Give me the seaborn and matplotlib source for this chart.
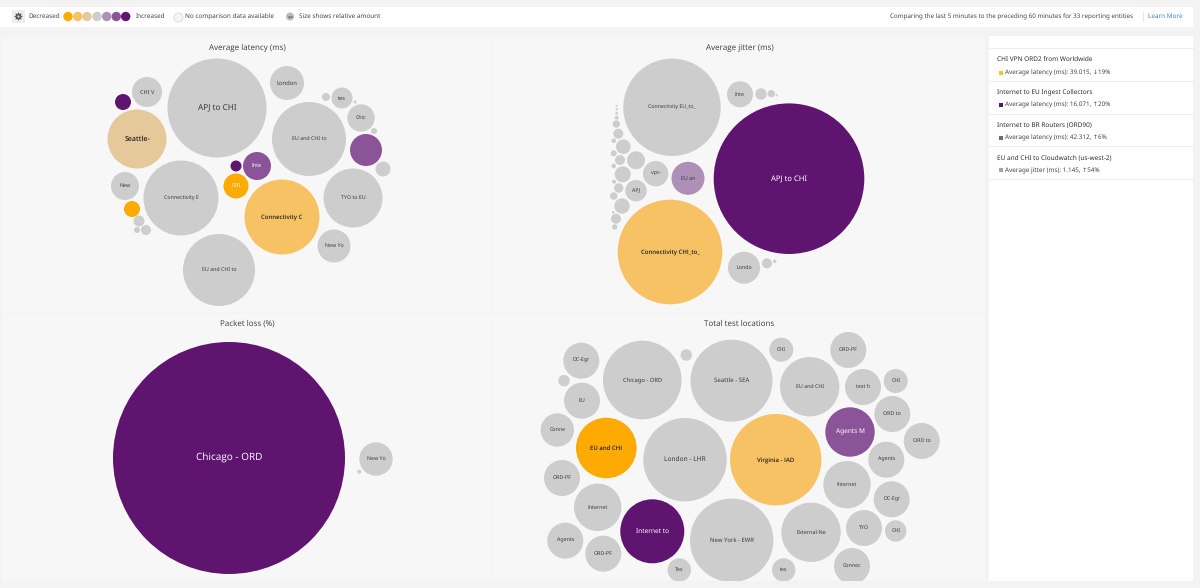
import pandas as pd
import matplotlib
matplotlib.use('Agg')
import matplotlib.pyplot as plt
import seaborn as sns
from matplotlib.patches import Rectangle

sns.set_style('white')
plt.rcParams['font.family'] = ['Noto Sans', 'DejaVu Sans']
plt.rcParams['text.hinting'] = 'no_hinting'
plt.rcParams['text.hinting_factor'] = 1
#Open Sans has the heavier weights, Noto Sans scales better at very small sizes
HEAVY = ['Open Sans', 'DejaVu Sans']

#bucket of change vs previous period
colors = {
    'dec3': '#fdab03', 'dec2': '#f6c264', 'dec1': '#e6c99b', 'none': '#cdcdcd',
    'inc1': '#ae8fb6', 'inc2': '#8b5499', 'inc3': '#5f1470',
}

#average latency
lat_labels = ['APJ to CHI', 'London', 'CHI V', '', 'Seattle-', '', 'tes', '', 'Chic', '', '', '',
              'EU and CHI to', '', 'Inte', 'CHI', 'Connectivity C', 'TYO to EU', 'Connectivity E',
              'New', '', '', '', '', 'EU and CHI to', 'New Yo']
lat_x = [217, 287, 147, 123, 137, 326, 342, 355, 361, 374, 366, 383, 309, 236, 257, 236, 282, 353, 181,
         125, 132, 139, 146, 137, 219, 334]
lat_y = [108, 83, 92, 102, 139, 97, 98, 102, 118, 131, 150, 169, 139, 166, 166, 186, 217, 198, 198,
         186, 209, 221, 230, 230, 270, 246]
lat_r = [49.5, 17, 15, 8, 29.5, 4, 10.5, 1.5, 13.7, 3, 16, 7.5, 37, 5.5, 14, 12.5, 37.5, 29.5, 37.5,
         14, 8, 5.5, 5, 3, 36, 16.5]
lat_bucket = ['none', 'none', 'none', 'inc3', 'dec1', 'none', 'none', 'none', 'none', 'none', 'inc2', 'none',
              'none', 'inc3', 'inc2', 'dec3', 'dec2', 'none', 'none',
              'none', 'dec3', 'none', 'none', 'none', 'none', 'none']

#average jitter
jit_labels = ['Connectivity EU_to_', 'Inte', '', '', '', 'APJ to CHI', 'vpc-', 'EU an', 'APJ',
              'Connectivity CHI_to_', 'Londo', '', ''] + [''] * 20
jit_x = [672, 740, 761, 771.3, 776.7, 789, 655.7, 688, 636, 670, 744, 767, 774.7,
         616.7, 616.7, 616.7, 616.7, 616.3, 618.3, 613.7, 623.3, 636, 613.7,
         620, 613.7, 622.7, 614, 618.7, 613.7, 622, 613.3, 616, 614.7]
jit_y = [107.3, 94.3, 94, 93.7, 95.3, 178.7, 173.7, 178.3, 190.7, 252, 267.7, 263.3, 261.3,
         106, 109.3, 113.3, 117.7, 124, 133.7, 140.7, 146.7, 160.3, 153.3,
         160, 166, 174.3, 181.7, 188, 196, 206, 212.3, 218.7, 227]
jit_r = [48.7, 13, 5.7, 3.7, 1, 75.3, 12.7, 16.5, 10.7, 52.3, 16, 5, 1.8,
         1, 1.2, 1.4, 2, 3.7, 5, 2.3, 7.3, 9, 3,
         5, 2.3, 8, 2, 4.7, 3.7, 7.7, 1.3, 5, 2.7]
jit_bucket = ['none', 'none', 'none', 'none', 'none', 'inc3', 'none', 'inc1', 'none',
              'dec2', 'none', 'none', 'none'] + ['none'] * 20

#packet loss
loss_labels = ['Chicago - ORD', 'New Yo', '']
loss_x = [229, 376, 359.3]
loss_y = [458, 459, 471.7]
loss_r = [116, 16.7, 2]
loss_bucket = ['inc3', 'none', 'none']

#total test locations
loc_labels = ['DC-Egr', 'Chicago - ORD', '', '', 'EU', 'Conne', 'EU and CHI', 'London - LHR', 'ORD-PF',
              'Internet', 'Internet to', 'Agents', 'ORD-PF', 'Tes', 'Seattle - SEA', 'CHI', 'ORD-PF',
              'EU and CHI', 'test h', 'CHI', 'ORD to', 'Agents M', 'ORD to', 'Virginia - IAD', 'Agents',
              'Internet', 'DC-Egr', 'New York - EWR', 'External-Ne', 'TYO', 'CHI', 'tes', 'Connec']
loc_x = [581.3, 642.3, 686.3, 564, 582, 557.3, 606.3, 685, 562,
         597.7, 652.3, 565.3, 603.3, 679.3, 731.5, 781.3, 848.3,
         809.7, 863, 895.7, 892.3, 850, 921.7, 775.7, 886.3,
         847, 891.7, 731.7, 811, 864, 895.7, 783.7, 852]
loc_y = [360.7, 380, 355, 380.7, 400.7, 430, 448, 459.7, 478,
         507.3, 531.3, 540.7, 553.7, 570, 380.7, 349.7, 350,
         386.7, 387, 381, 414, 432, 441, 459.7, 459.7,
         484.7, 499.3, 540.3, 532.3, 528, 531, 570, 566]
loc_r = [18, 39.3, 5.7, 5.7, 18, 16.7, 30.3, 41.7, 18,
         23.7, 32, 18, 18, 11.7, 41, 12, 18,
         29.7, 18, 12, 18, 24.7, 18, 45.7, 18,
         23.7, 18, 41.7, 29.7, 18, 10.7, 11.7, 18]
loc_bucket = ['none', 'none', 'none', 'none', 'none', 'none', 'dec3', 'none', 'none',
              'none', 'inc3', 'none', 'none', 'none', 'none', 'none', 'none',
              'none', 'none', 'none', 'none', 'inc2', 'none', 'dec2', 'none',
              'none', 'none', 'none', 'none', 'none', 'none', 'none', 'none']

#legend strip and side list
legend_x = [68, 77.7, 87, 97, 106.7, 116.3, 125.7]
legend_bucket = ['dec3', 'dec2', 'dec1', 'none', 'inc1', 'inc2', 'inc3']
side_titles = ['CHI VPN ORD2 from Worldwide', 'Internet to EU Ingest Collectors',
               'Internet to BR Routers (ORD90)', 'EU and CHI to Cloudwatch (us-west-2)']
side_texts = ['Average latency (ms): 39.015, \u219319%', 'Average latency (ms): 16.071, \u219120%',
              'Average latency (ms): 42.312, \u21916%', 'Average jitter (ms): 1.145, \u219154%']
side_colors = ['#f2c230', '#4b1a6e', '#80608a', '#ab9fb0']

#label sizes that differ from the default
lat_fonts = {'APJ to CHI': 5.9, 'London': 4.2, 'CHI V': 4, 'Seattle-': 5.0, 'Connectivity C': 4.4,
             'tes': 4, 'Inte': 3.9}
jit_fonts = {'Connectivity EU_to_': 3.75, 'APJ to CHI': 5.5, 'Connectivity CHI_to_': 4.5}
loss_fonts = {'Chicago - ORD': 7.4}
loc_fonts = {'Chicago - ORD': 4.2, 'London - LHR': 4.75, 'New York - EWR': 4.25, 'Virginia - IAD': 4.4,
             'Seattle - SEA': 4.4, 'Internet to': 4.7, 'Agents M': 4.7, 'External-Ne': 3.9}

W, H = 1200, 588
PX = 72 / 100  #points per pixel at dpi 100


def area(r):
    #marker area in points^2 for a radius in pixels
    return (2 * r * PX) ** 2


fig = plt.figure(figsize=(12, 5.88), dpi=100, facecolor='#f3f3f4')

#page chrome
bg = fig.add_axes([0, 0, 1, 1])
bg.set_xlim(0, W)
bg.set_ylim(H, 0)
bg.axis('off')
bg.add_patch(Rectangle((0, 7), 1193, 20, fc='white', ec='none'))
bg.add_patch(Rectangle((989, 36), 204, 545, fc='white', ec='none'))
for y in [48, 81, 113.5, 146, 179]:
    bg.plot([989, 1193], [y, y], color='#eeeeee', lw=0.8)

sns.scatterplot(x=legend_x, y=[16.5] * 7, hue=legend_bucket, palette=colors, s=area(4.7),
                linewidth=0, legend=False, ax=bg)
bg.scatter([177.5], [16.5], s=area(4.5), fc='#f5f5f5', ec='#dddddd', lw=0.7)
bg.scatter([290], [16.5], s=area(4), fc='#bdbdbd', ec='none')
bg.text(290, 16.5, '\u2194', fontsize=4.5, color='#444444', ha='center', va='center')
bg.add_patch(Rectangle((12, 10), 13, 13, fc='#eeeeee', ec='none'))
bg.scatter([18.5], [16.5], s=area(3.6), fc='none', ec='#555555', lw=0.7, marker=(8, 1, 0))
bg.scatter([18.5], [16.5], s=area(1.5), fc='none', ec='#555555', lw=0.6)

TOP = dict(fontsize=4.6, color='#444444', va='center')
bg.text(28, 16.5, 'Decreased', **TOP)
bg.text(135.5, 16.5, 'Increased', **TOP)
bg.text(185, 16.5, 'No comparison data available', **TOP)
bg.text(299, 16.5, 'Size shows relative amount', **TOP)
bg.text(890, 16.5, 'Comparing the last 5 minutes to the preceding 60 minutes for 33 reporting entities',
        fontsize=4.5, color='#444444', va='center')
bg.text(1148, 16.5, 'Learn More', fontsize=4.6, color='#3f87c0', va='center')
bg.plot([1143, 1143], [12, 21], color='#e8e8e8', lw=0.7)

for i in range(4):
    y0 = 60 + i * 32.6
    bg.text(997, y0, side_titles[i], fontsize=4.66, color='#2e2e2e', va='center')
    bg.add_patch(Rectangle((998.5, y0 + 10.5), 4, 4, fc=side_colors[i], ec='none'))
    bg.text(1005, y0 + 12.7, side_texts[i], fontsize=4.55, color='#444444', va='center')


def draw_panel(box, title, labels, xs, ys, rs, buckets, fonts):
    x0, y0, x1, y1 = box
    ax = fig.add_axes([x0 / W, 1 - y1 / H, (x1 - x0) / W, (y1 - y0) / H])
    df = pd.DataFrame({'x': xs, 'y': ys, 'r': rs, 'bucket': buckets, 'label': labels})
    df['area'] = df['r'] ** 2
    rmax = df['r'].max()
    sns.scatterplot(data=df, x='x', y='y', hue='bucket', palette=colors, size='area',
                    sizes=(0, area(rmax)), size_norm=(0, rmax ** 2), linewidth=0, legend=False, ax=ax)
    ax.set_xlim(x0, x1)
    ax.set_ylim(y1, y0)
    ax.set_facecolor('#f7f7f8')
    ax.set_xlabel('')
    ax.set_ylabel('')
    ax.set_xticks([])
    ax.set_yticks([])
    for s in ax.spines.values():
        s.set_visible(False)
    ax.text((x0 + x1) / 2, y0 + 10.5, title, fontsize=6.1, color='#3c3c3c', ha='center', va='center',
            fontweight='medium', family=HEAVY)
    for _, row in df[df['label'] != ''].iterrows():
        size = fonts.get(row['label'], 3.8)
        family = plt.rcParams['font.family']
        if row['bucket'] in ('inc2', 'inc3') or (row['bucket'] == 'dec3' and row['r'] < 20):
            col, wt = 'white', 'medium'
        elif row['bucket'] in ('dec1', 'dec2', 'dec3'):
            col, wt, family = '#222222', 'semibold', HEAVY
            size = fonts.get(row['label'], 4.4)
        else:
            col, wt = '#3a3a3a', 'normal'
        if size > 7:
            family = HEAVY
        ax.text(row['x'], row['y'], row['label'], fontsize=size, color=col, fontweight=wt, family=family,
                ha='center', va='center', clip_on=True)


draw_panel((2, 37, 493, 312), 'Average latency (ms)', lat_labels, lat_x, lat_y, lat_r, lat_bucket, lat_fonts)
draw_panel((494, 37, 985, 312), 'Average jitter (ms)', jit_labels, jit_x, jit_y, jit_r, jit_bucket, jit_fonts)
draw_panel((2, 313, 493, 581), 'Packet loss (%)', loss_labels, loss_x, loss_y, loss_r, loss_bucket, loss_fonts)
draw_panel((494, 313, 985, 581), 'Total test locations', loc_labels, loc_x, loc_y, loc_r, loc_bucket, loc_fonts)

plt.savefig('out.png', dpi=100)
